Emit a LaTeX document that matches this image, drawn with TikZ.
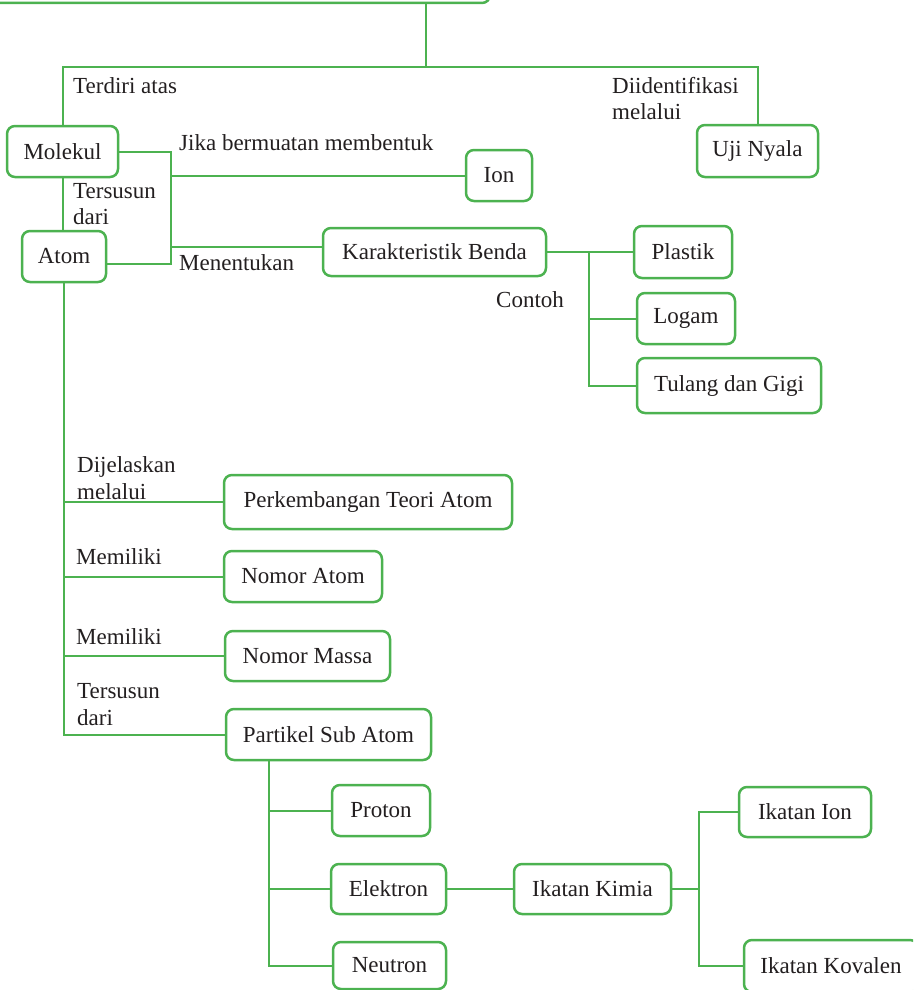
\documentclass[tikz,border=0pt]{standalone}
\usepackage{fontspec}
\setmainfont{Liberation Serif}

\definecolor{hijau}{RGB}{76,178,80}
\definecolor{teks}{RGB}{35,31,32}

\tikzset{
  kotak/.style 2 args={draw=hijau, line width=2.5pt, rounded corners=8pt, fill=white,
    text=teks, inner sep=0pt, minimum width=#1pt, minimum height=#2pt},
  garis/.style={hijau, line width=2pt},
  ket/.style={text=teks, align=left, inner sep=0pt, anchor=west},
}

\begin{document}
\begin{tikzpicture}[x=1pt, y=-1pt, font=\fontsize{23}{26.5}\selectfont]

  \useasboundingbox (0,0) rectangle (913,990);
  \clip (0,0) rectangle (913,990);

  % ==========================================
  % BAGIAN 1 : JUDUL, MOLEKUL, ATOM
  % ==========================================
  % Kotak judul (terpotong di tepi atas)
  \node[kotak={520}{66}] (judul) at (230,-30) {};

  \node[kotak={111}{51}] (molekul) at (62.5,151.5) {Molekul};
  \node[kotak={84}{51}] (atom) at (64,256.5) {Atom};
  \node[kotak={121}{52}] (uji) at (757.5,151) {Uji Nyala};
  \node[kotak={66}{51}] (ion) at (499,175.5) {Ion};
  \node[kotak={223}{48}] (benda) at (434.5,252) {Karakteristik Benda};

  % Cabang dari judul
  \coordinate (cabang) at (426,67);
  \draw[garis] (judul.south -| cabang) -- (cabang);
  \draw[garis] (molekul.north) |- (cabang) -| (uji.north);

  \node[ket] at (73,86) {Terdiri atas};
  \node[ket] at (612,98.5) {Diidentifikasi\\melalui};

  % Molekul tersusun dari atom
  \draw[garis] (molekul.south) -- (molekul.south |- atom.north);
  \node[ket] at (73,204) {Tersusun\\dari};

  % Simpul ke Ion dan Karakteristik Benda
  \coordinate (simpul) at (171,152);
  \coordinate (atomkanan) at ([yshift=-7pt]atom.east);
  \coordinate (bendakiri) at ([yshift=5pt]benda.west);
  \draw[garis] (molekul.east) -- (simpul |- molekul.east)
    -- (simpul |- atomkanan) -- (atomkanan);
  \draw[garis] (simpul |- ion.west) -- (ion.west);
  \draw[garis] (simpul |- bendakiri) -- (bendakiri);

  \node[ket] at (179,143) {Jika bermuatan membentuk};
  \node[ket] at (179,263) {Menentukan};

  % ==========================================
  % BAGIAN 2 : CONTOH KARAKTERISTIK BENDA
  % ==========================================
  \node[kotak={98}{52}] (plastik) at (683,252) {Plastik};
  \node[kotak={98}{51}] (logam) at (686,318.5) {Logam};
  \node[kotak={184}{55}] (tulang) at (729,385.5) {Tulang dan Gigi};

  \coordinate (contoh) at (589,252);
  \draw[garis] (benda.east) -- (plastik.west);
  \draw[garis] (contoh) |- (logam.west);
  \draw[garis] (contoh) |- (tulang.west);
  \node[ket] at (496,300) {Contoh};

  % ==========================================
  % BAGIAN 3 : SIFAT ATOM
  % ==========================================
  \node[kotak={288}{54}] (teori) at (368,502) {Perkembangan Teori Atom};
  \node[kotak={158}{51}] (nomoratom) at (303,576.5) {Nomor Atom};
  \node[kotak={165}{50}] (nomormassa) at (307.5,656) {Nomor Massa};
  \node[kotak={205}{51}] (partikel) at (328.5,734.5) {Partikel Sub Atom};

  \draw[garis] (atom.south) |- (partikel.west);
  \draw[garis] (atom.south |- teori.west) -- (teori.west);
  \draw[garis] (atom.south |- nomoratom.west) -- (nomoratom.west);
  \draw[garis] (atom.south |- nomormassa.west) -- (nomormassa.west);

  \node[ket] at (77,478) {Dijelaskan\\melalui};
  \node[ket] at (76,557) {Memiliki};
  \node[ket] at (76,637) {Memiliki};
  \node[ket] at (77,704.5) {Tersusun\\dari};

  % ==========================================
  % BAGIAN 4 : PARTIKEL SUB ATOM DAN IKATAN
  % ==========================================
  \node[kotak={98}{51}] (proton) at (381,810.5) {Proton};
  \node[kotak={115}{50}] (elektron) at (388.5,889) {Elektron};
  \node[kotak={113}{47}] (neutron) at (389.5,965.5) {Neutron};
  \node[kotak={157}{50}] (kimia) at (592.5,889) {Ikatan Kimia};
  \node[kotak={132}{50}] (ikation) at (805,812) {Ikatan Ion};
  \node[kotak={174}{52}] (kovalen) at (831,966) {Ikatan Kovalen};

  \coordinate (tpartikel) at (269,760);
  \draw[garis] (tpartikel) |- (neutron.west);
  \draw[garis] (tpartikel |- proton.west) -- (proton.west);
  \draw[garis] (tpartikel |- elektron.west) -- (elektron.west);

  \draw[garis] (elektron.east) -- (kimia.west);
  \coordinate (tikatan) at (699,889);
  \draw[garis] (kimia.east) -- (tikatan);
  \draw[garis] (ikation.west) -| (tikatan) |- (kovalen.west);

\end{tikzpicture}
\end{document}
